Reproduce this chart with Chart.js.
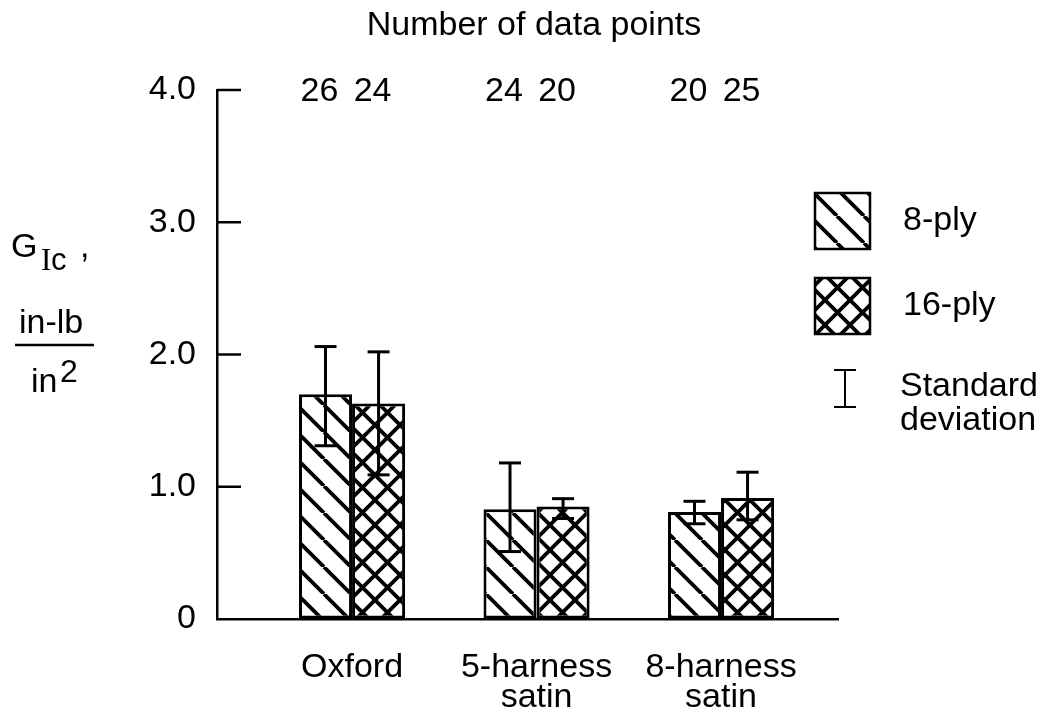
<!DOCTYPE html>
<html>
<head>
<meta charset="utf-8">
<script src="https://cdn.jsdelivr.net/npm/chart.js@4.4.0/dist/chart.umd.min.js"></script>
<style>
  html, body { margin: 0; padding: 0; background: #fff; }
</style>
</head>
<body>
<canvas id="chart" width="1049" height="721"></canvas>
<script>
// categories and series values
const categories = [["Oxford"], ["5-harness", "satin"], ["8-harness", "satin"]];
const seriesLabels = ["8-ply", "16-ply"];
const ply8 = [1.70, 0.83, 0.81];
const ply16 = [1.63, 0.85, 0.915];
const ply8Low = [1.31, 0.51, 0.72];
const ply8High = [2.06, 1.18, 0.89];
const ply16Low = [1.09, 0.76, 0.75];
const ply16High = [2.02, 0.91, 1.11];
const ply8Count = [26, 24, 20];
const ply16Count = [24, 20, 25];
const yTicks = [0, 1, 2, 3, 4];

const FONT = "'Liberation Sans', Arial, Helvetica, sans-serif";
const FS = 34;

// hatch fills
function makeHatch(size, cross) {
  const c = document.createElement("canvas");
  c.width = size;
  c.height = size;
  const g = c.getContext("2d");
  g.fillStyle = "#fff";
  g.fillRect(0, 0, size, size);
  g.strokeStyle = "#000";
  g.lineWidth = 3.8;
  g.beginPath();
  for (let k = -size; k <= size; k += size) {
    g.moveTo(k, 0);
    g.lineTo(k + size, size);
    if (cross) {
      g.moveTo(k, size);
      g.lineTo(k + size, 0);
    }
  }
  g.stroke();
  return g.createPattern(c, "repeat");
}
const diagFill = makeHatch(27, false);
const crossFill = makeHatch(25, true);

function line(ctx, x0, y0, x1, y1) {
  ctx.beginPath();
  ctx.moveTo(x0, y0);
  ctx.lineTo(x1, y1);
  ctx.stroke();
}

const decor = {
  id: "decor",
  afterDraw(chart) {
    const { ctx, chartArea: a, scales: { y } } = chart;
    ctx.save();
    ctx.strokeStyle = "#000";
    ctx.fillStyle = "#000";
    ctx.lineWidth = 2.5;

    // inward tick marks on the y axis
    y.ticks.forEach((t) => {
      if (t.value === 0) return;
      const py = y.getPixelForValue(t.value);
      line(ctx, a.left, py, a.left + 24, py);
    });

    // standard deviation bars
    ctx.lineWidth = 3;
    [[ply8Low, ply8High], [ply16Low, ply16High]].forEach(([lo, hi], d) => {
      chart.getDatasetMeta(d).data.forEach((bar, i) => {
        const y0 = y.getPixelForValue(lo[i]);
        const y1 = y.getPixelForValue(hi[i]);
        line(ctx, bar.x, y0, bar.x, y1);
        line(ctx, bar.x - 11, y0, bar.x + 11, y0);
        line(ctx, bar.x - 11, y1, bar.x + 11, y1);
      });
    });

    // number of data points above each bar
    ctx.font = FS + "px " + FONT;
    ctx.textAlign = "center";
    ctx.textBaseline = "middle";
    [ply8Count, ply16Count].forEach((n, d) => {
      chart.getDatasetMeta(d).data.forEach((bar, i) => {
        ctx.fillText(String(n[i]), bar.x - 6, y.getPixelForValue(4) + 2);
      });
    });
    ctx.fillText("Number of data points", 534, 26);

    // y axis label
    ctx.textAlign = "left";
    ctx.textBaseline = "alphabetic";
    ctx.fillText("G", 11, 257);
    ctx.font = "31px 'Liberation Serif', 'Times New Roman', serif";
    ctx.fillText("I", 41, 270);
    ctx.font = "31px " + FONT;
    ctx.fillText("c", 51, 270);
    ctx.font = FS + "px " + FONT;
    ctx.fillText(",", 80, 257);
    ctx.fillText("in-lb", 19, 333);
    ctx.lineWidth = 2.5;
    line(ctx, 15, 345, 94, 345);
    ctx.fillText("in", 31, 392);
    ctx.font = "32px " + FONT;
    ctx.fillText("2", 60, 382);

    // legend
    const boxes = [[diagFill, 193], [crossFill, 278]];
    boxes.forEach(([fill, top], d) => {
      ctx.fillStyle = fill;
      ctx.fillRect(815, top, 55, 56);
      ctx.lineWidth = 2.5;
      ctx.strokeRect(815, top, 55, 56);
      ctx.fillStyle = "#000";
      ctx.font = FS + "px " + FONT;
      ctx.textBaseline = "middle";
      ctx.fillText(seriesLabels[d], 903, top + 28);
    });
    ctx.lineWidth = 2;
    line(ctx, 845, 370, 845, 407);
    line(ctx, 834, 370, 856, 370);
    line(ctx, 834, 407, 856, 407);
    ctx.fillText("Standard", 900, 387);
    ctx.fillText("deviation", 900, 421);
    ctx.restore();
  }
};

new Chart(document.getElementById("chart").getContext("2d"), {
  type: "bar",
  data: {
    datasets: [
      {
        label: seriesLabels[0],
        data: ply8.map((v, i) => ({ x: i + 1, y: v })),
        backgroundColor: diagFill,
        borderColor: "#000",
        borderWidth: 3,
        borderSkipped: false
      },
      {
        label: seriesLabels[1],
        data: ply16.map((v, i) => ({ x: i + 1, y: v })),
        backgroundColor: crossFill,
        borderColor: "#000",
        borderWidth: 3,
        borderSkipped: false
      }
    ]
  },
  options: {
    responsive: false,
    animation: false,
    devicePixelRatio: 1,
    categoryPercentage: 0.575,
    barPercentage: 1,
    layout: { padding: { top: 90, right: 211, left: 0, bottom: 0 } },
    plugins: {
      legend: { display: false },
      tooltip: { enabled: false },
      title: { display: false }
    },
    scales: {
      x: {
        type: "linear",
        min: 0.268,
        max: 3.634,
        offset: false,
        afterBuildTicks: (s) => {
          s.ticks = categories.map((c, i) => ({ value: i + 1 }));
        },
        afterFit: (s) => {
          s.height = 102;
        },
        grid: { display: true, drawOnChartArea: false, drawTicks: false },
        border: { display: true, color: "#000", width: 2.5 },
        ticks: {
          color: "#000",
          font: { size: FS, family: FONT, lineHeight: 0.9 },
          padding: 33,
          maxRotation: 0,
          autoSkip: false,
          callback: (v) => categories[v - 1]
        }
      },
      y: {
        min: 0,
        max: 4,
        afterBuildTicks: (s) => {
          s.ticks = yTicks.map((v) => ({ value: v }));
        },
        afterFit: (s) => {
          s.width = 217;
        },
        grid: { display: true, drawOnChartArea: false, drawTicks: false },
        border: { display: true, color: "#000", width: 2.5 },
        ticks: {
          color: "#000",
          font: { size: FS, family: FONT },
          padding: 21,
          callback: (v) => (v === 0 ? "0" : v.toFixed(1))
        }
      }
    }
  },
  plugins: [decor]
});
</script>
</body>
</html>
